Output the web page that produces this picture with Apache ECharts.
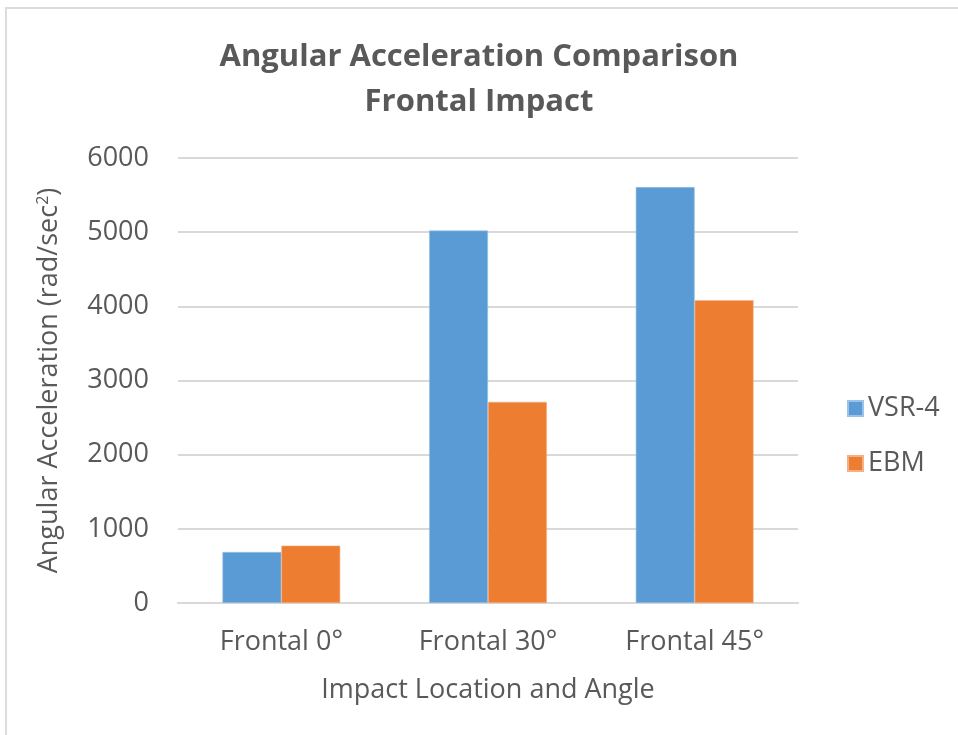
<!DOCTYPE html>
<html>
<head>
<meta charset="utf-8">
<script src="https://cdn.jsdelivr.net/npm/echarts@6/dist/echarts.min.js"></script>
<style>
  html, body { margin: 0; padding: 0; background: #ffffff; }
  #frame { position: absolute; left: 0; top: 0; width: 958px; height: 735px; }
  #edgeTop { position: absolute; left: 5px; top: 7px; width: 953px; height: 2px; background: #dcdcdc; }
  #edgeLeft { position: absolute; left: 5px; top: 7px; width: 2px; height: 728px; background: #dcdcdc; }
  #chart { position: absolute; left: 0; top: 0; width: 958px; height: 735px; }
</style>
</head>
<body>
<div id="frame">
  <div id="chart"></div>
  <div id="edgeTop"></div>
  <div id="edgeLeft"></div>
</div>
<script>
// Peak angular acceleration per impact case
const categories = ['Frontal 0°', 'Frontal 30°', 'Frontal 45°'];
const seriesNames = ['VSR-4', 'EBM'];
const vsr4Values = [688, 5022, 5608];
const ebmValues = [774, 2712, 4082];
const yTicks = { min: 0, max: 6000, interval: 1000 };

const textColor = '#595959';
const fontFamily = '"Open Sans", "Noto Sans", sans-serif';
const labelSize = 27;

const chart = echarts.init(document.getElementById('chart'), null, { renderer: 'canvas' });

chart.setOption({
  animation: false,
  backgroundColor: '#ffffff',
  textStyle: { fontFamily: fontFamily, color: textColor },
  title: {
    text: 'Angular Acceleration Comparison\nFrontal Impact',
    left: 'center',
    top: 30,
    textStyle: {
      fontFamily: fontFamily,
      fontSize: 31,
      fontWeight: 'bold',
      color: textColor,
      lineHeight: 45
    }
  },
  legend: {
    orient: 'vertical',
    left: 842,
    top: 390,
    itemWidth: 15,
    itemHeight: 15,
    itemGap: 28,
    icon: 'rect',
    data: seriesNames,
    textStyle: { fontFamily: fontFamily, fontSize: labelSize, lineHeight: 27, color: textColor, padding: [0, 0, 0, 0] }
  },
  grid: { left: 178, right: 160, top: 158, bottom: 132, containLabel: false },
  xAxis: {
    type: 'category',
    data: categories,
    name: 'Impact Location and Angle',
    nameLocation: 'middle',
    nameGap: 74,
    nameTextStyle: { fontFamily: fontFamily, fontSize: labelSize, color: textColor },
    axisLine: { show: true, lineStyle: { color: '#d9d9d9', width: 2 } },
    axisTick: { show: false },
    axisLabel: { fontFamily: fontFamily, fontSize: labelSize, color: textColor, margin: 26 }
  },
  yAxis: {
    type: 'value',
    min: yTicks.min,
    max: yTicks.max,
    interval: yTicks.interval,
    name: '{n|Angular Acceleration (rad/sec}{s|2}{n|)}',
    nameLocation: 'middle',
    nameGap: 115,
    nameTextStyle: {
      rich: {
        n: { fontFamily: fontFamily, fontSize: labelSize, color: textColor },
        s: { fontFamily: fontFamily, fontSize: 16, color: textColor, verticalAlign: 'top', padding: [0, 0, 12, 0] }
      }
    },
    axisLine: { show: false },
    axisTick: { show: false },
    splitLine: { lineStyle: { color: '#d9d9d9', width: 2 } },
    axisLabel: {
      fontFamily: fontFamily,
      fontSize: labelSize,
      color: textColor,
      margin: 29,
      formatter: (v) => String(v)
    }
  },
  series: [
    {
      name: seriesNames[0],
      type: 'bar',
      data: vsr4Values,
      barGap: '0%',
      barCategoryGap: '43%',
      itemStyle: { color: '#5b9bd5', borderColor: '#9cc3e6', borderWidth: 0.6 }
    },
    {
      name: seriesNames[1],
      type: 'bar',
      data: ebmValues,
      barGap: '0%',
      barCategoryGap: '43%',
      itemStyle: { color: '#ed7d31', borderColor: '#f4b183', borderWidth: 0.6 }
    }
  ]
});
</script>
</body>
</html>
